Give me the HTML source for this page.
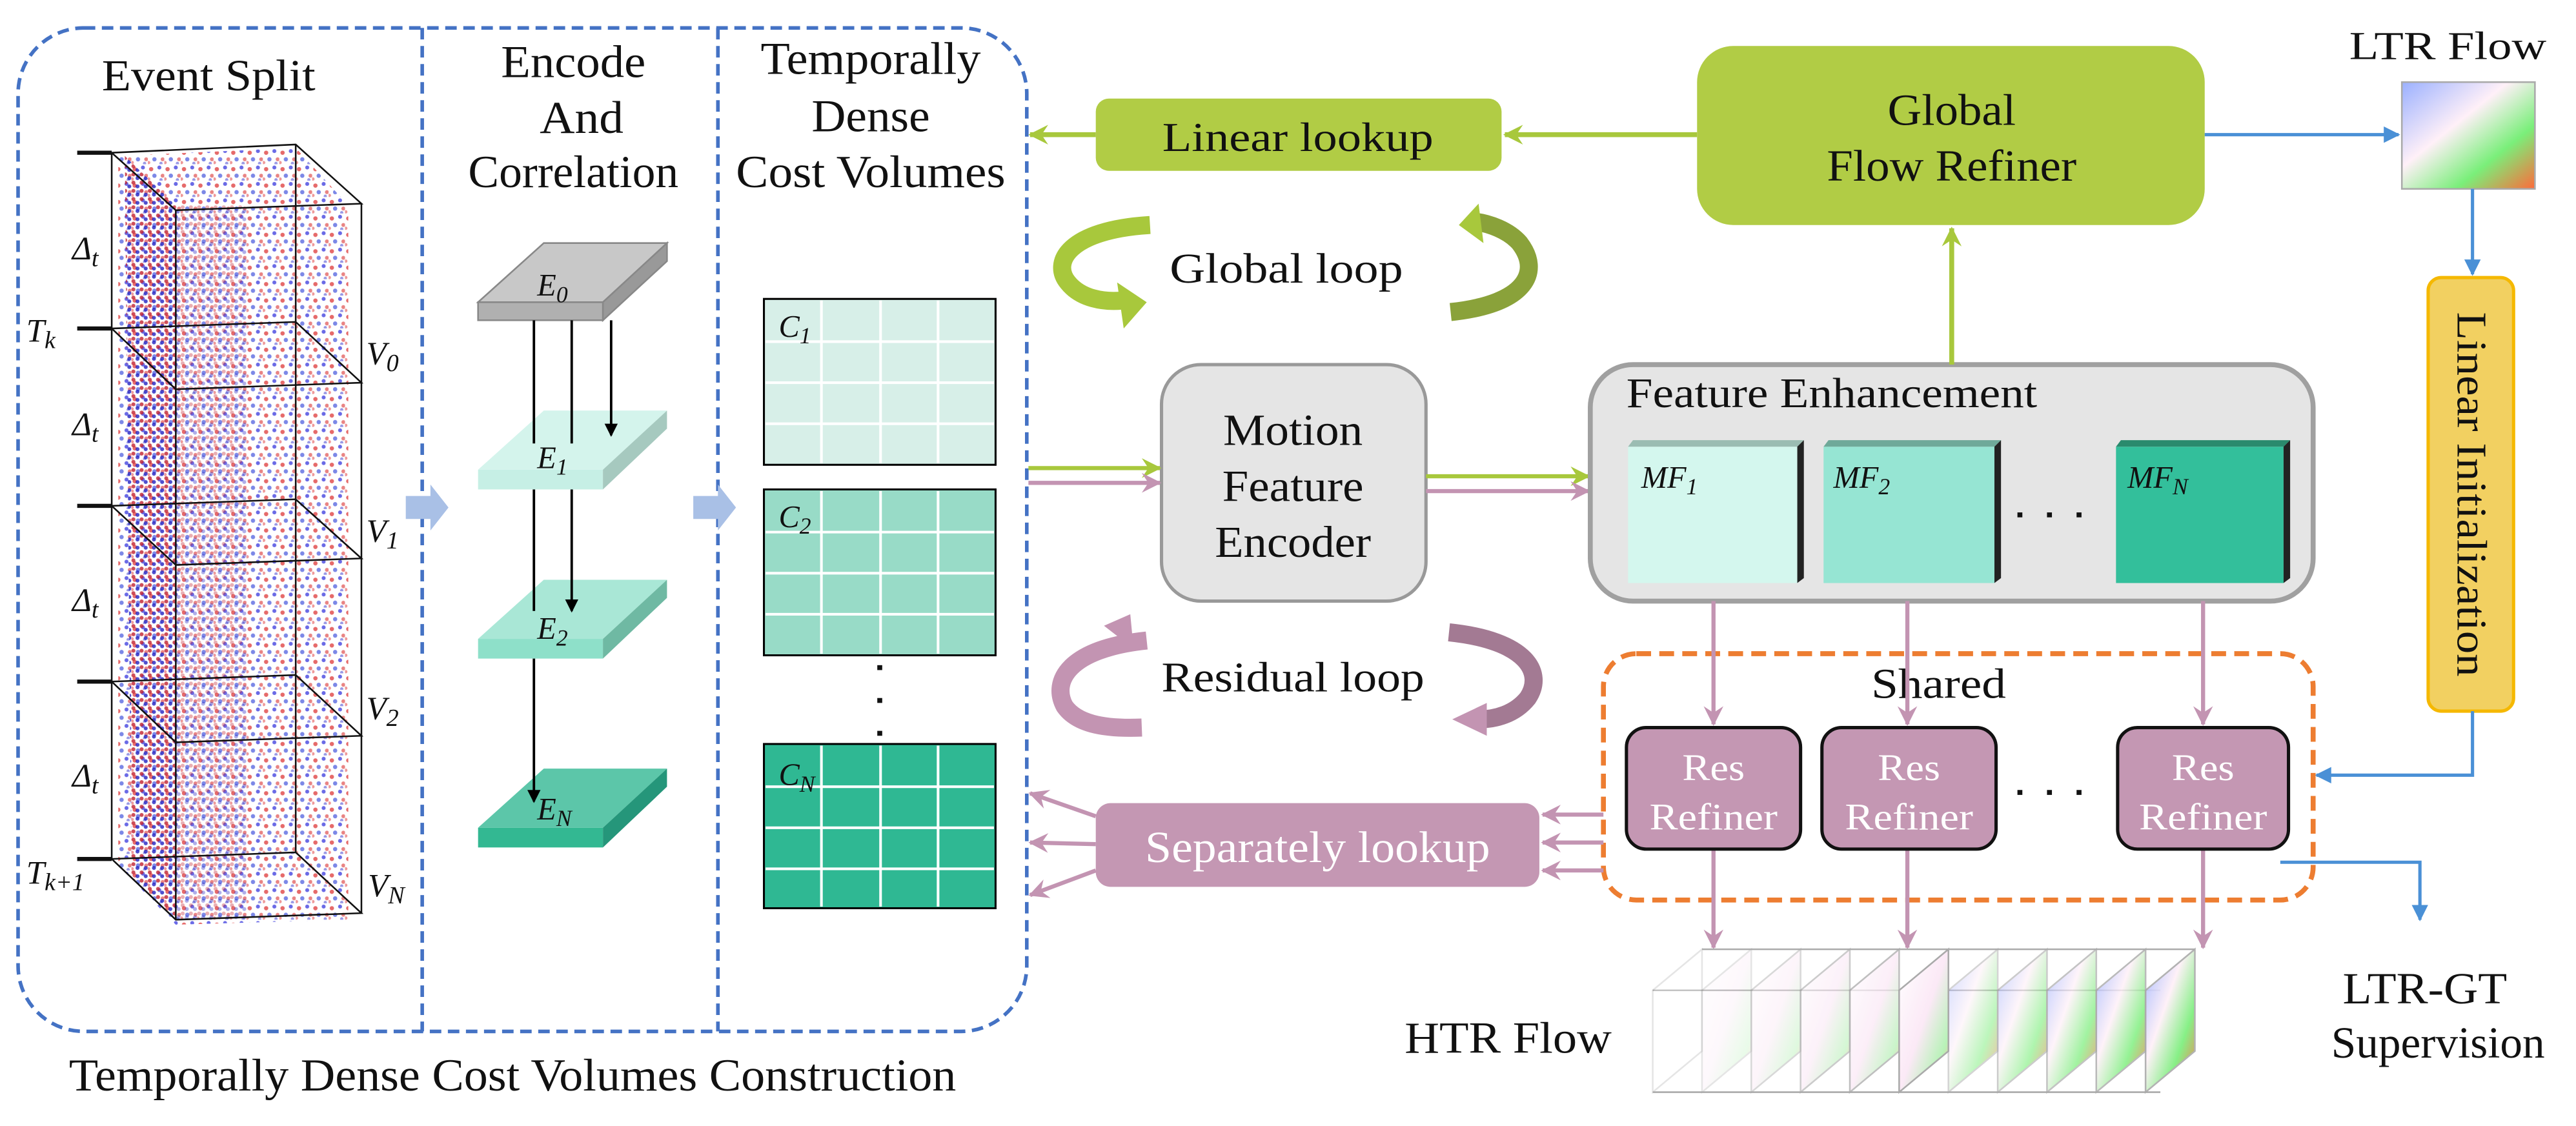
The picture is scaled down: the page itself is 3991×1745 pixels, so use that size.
<!DOCTYPE html>
<html><head><meta charset="utf-8"><style>
html,body{margin:0;padding:0;background:#fff;}
svg{display:block;}
text{font-family:"Liberation Serif",serif;fill:#111;}
</style></head><body>
<svg width="3991" height="1745" viewBox="0 0 1568 685.6" preserveAspectRatio="none" xmlns="http://www.w3.org/2000/svg">
<defs>
<pattern id="dots" width="10" height="10" patternUnits="userSpaceOnUse">
<circle cx="2" cy="3" r="1.3" fill="#e04545" opacity=".8"/><circle cx="7" cy="2" r="1.2" fill="#4545e0" opacity=".8"/>
<circle cx="4" cy="7" r="1.3" fill="#4455dd" opacity=".7"/><circle cx="9" cy="7" r="1.2" fill="#e05050" opacity=".7"/>
<circle cx="8" cy="9.5" r="1" fill="#3333cc" opacity=".5"/><circle cx="0.5" cy="9" r="1" fill="#dd3333" opacity=".5"/>
</pattern>
<pattern id="dots2" width="5" height="5" patternUnits="userSpaceOnUse">
<circle cx="1.2" cy="1.2" r="1.2" fill="#c02030" opacity=".8"/><circle cx="3.7" cy="3.5" r="1.2" fill="#2020c0" opacity=".8"/>
</pattern>
<linearGradient id="flowg" x1="0" y1="0" x2="1" y2="1">
<stop offset="0" stop-color="#9ab0ff"/><stop offset=".4" stop-color="#fff0f8"/><stop offset=".7" stop-color="#7aef7a"/><stop offset="1" stop-color="#ff6a3a"/>
</linearGradient>
<linearGradient id="flowl" x1="0" y1="0" x2="1" y2="1">
<stop offset="0" stop-color="#ffffff"/><stop offset=".5" stop-color="#fbe9f6"/><stop offset=".8" stop-color="#b8f2b8"/><stop offset="1" stop-color="#ffb090"/>
</linearGradient>
<marker id="ab" markerWidth="8" markerHeight="8" refX="7" refY="4" orient="auto" markerUnits="userSpaceOnUse"><path d="M0,0 L8,4 L0,8z" fill="#000"/></marker>
<marker id="ag" markerWidth="12" markerHeight="12" refX="11" refY="6" orient="auto" markerUnits="userSpaceOnUse"><path d="M0,0 L12,6 L0,12 L4,6z" fill="#a8c83c"/></marker>
<marker id="ap" markerWidth="12" markerHeight="12" refX="11" refY="6" orient="auto" markerUnits="userSpaceOnUse"><path d="M0,0 L12,6 L0,12 L4,6z" fill="#c394b2"/></marker>
<marker id="abl" markerWidth="10" markerHeight="10" refX="9" refY="5" orient="auto" markerUnits="userSpaceOnUse"><path d="M0,0 L10,5 L0,10z" fill="#4a90d6"/></marker>
</defs>

<rect x="11" y="17" width="614" height="611" rx="40" fill="none" stroke="#4472c4" stroke-width="2.2" stroke-dasharray="7,4"/>
<line x1="257" y1="17" x2="257" y2="628" stroke="#4472c4" stroke-width="2.2" stroke-dasharray="7,4"/>
<line x1="437" y1="17" x2="437" y2="628" stroke="#4472c4" stroke-width="2.2" stroke-dasharray="7,4"/>

<text x="127" y="55" font-size="27" text-anchor="middle" textLength="130" lengthAdjust="spacingAndGlyphs">Event Split</text>
<text x="349" y="47" font-size="28" text-anchor="middle" textLength="88" lengthAdjust="spacingAndGlyphs">Encode</text>
<text x="354" y="81" font-size="28" text-anchor="middle" textLength="51" lengthAdjust="spacingAndGlyphs">And</text>
<text x="349" y="114" font-size="28" text-anchor="middle" textLength="128" lengthAdjust="spacingAndGlyphs">Correlation</text>
<text x="530" y="45" font-size="28" text-anchor="middle" textLength="134" lengthAdjust="spacingAndGlyphs">Temporally</text>
<text x="530" y="80" font-size="28" text-anchor="middle" textLength="72" lengthAdjust="spacingAndGlyphs">Dense</text>
<text x="530" y="114" font-size="28" text-anchor="middle" textLength="164" lengthAdjust="spacingAndGlyphs">Cost Volumes</text>
<text x="312" y="664" font-size="28" text-anchor="middle" textLength="540" lengthAdjust="spacingAndGlyphs">Temporally Dense Cost Volumes Construction</text>

<!-- event cube -->
<path d="M72,95 L180,90 L212,125 L212,560 L107,563 L72,527z" fill="url(#dots)"/>
<path d="M76,95 L107,125 L107,560 L80,535z" fill="url(#dots2)"/>
<path d="M107,125 L150,125 L150,560 L107,560z" fill="url(#dots2)" opacity=".45"/>
<g fill="none" stroke="#111" stroke-width="1">
<path d="M68,93 L180,88 L220,124 L107,128z"/>
<line x1="68" y1="93" x2="68" y2="523"/><line x1="180" y1="88" x2="180" y2="519"/>
<line x1="107" y1="128" x2="107" y2="560"/><line x1="220" y1="124" x2="220" y2="556"/>
<path d="M68,200 L180,196 L220,233 L107,237z"/>
<path d="M68,308 L180,304 L220,340 L107,344z"/>
<path d="M68,415 L180,411 L220,448 L107,452z"/>
<path d="M68,523 L180,519 L220,556 L107,560z"/>
</g>
<g stroke="#111" stroke-width="2.5">
<line x1="47" y1="93" x2="68" y2="93"/><line x1="47" y1="200" x2="68" y2="200"/><line x1="47" y1="308" x2="68" y2="308"/><line x1="47" y1="415" x2="68" y2="415"/><line x1="47" y1="523" x2="68" y2="523"/>
</g>
<g font-size="20" font-style="italic">
<text x="44" y="158">Δ<tspan font-size="15" dy="4">t</tspan></text>
<text x="44" y="265">Δ<tspan font-size="15" dy="4">t</tspan></text>
<text x="44" y="372">Δ<tspan font-size="15" dy="4">t</tspan></text>
<text x="44" y="479">Δ<tspan font-size="15" dy="4">t</tspan></text>
<text x="16" y="208">T<tspan font-size="15" dy="4">k</tspan></text>
<text x="16" y="538">T<tspan font-size="15" dy="4">k+1</tspan></text>
<text x="223" y="222">V<tspan font-size="15" dy="4">0</tspan></text>
<text x="223" y="330">V<tspan font-size="15" dy="4">1</tspan></text>
<text x="223" y="438">V<tspan font-size="15" dy="4">2</tspan></text>
<text x="224" y="546">V<tspan font-size="15" dy="4">N</tspan></text>
</g>

<path d="M247,302 L262,302 L262,295 L273,309 L262,323 L262,316 L247,316z" fill="#a9c0e6"/>
<path d="M422,302 L437,302 L437,295 L448,309 L437,323 L437,316 L422,316z" fill="#a9c0e6"/>

<path d="M291,184 L331,148 L406,148 L367,184z" fill="#c8c8c8" stroke="#888" stroke-width="1"/>
<rect x="291" y="184" width="76" height="11" fill="#b0b0b0" stroke="#888" stroke-width="1"/>
<path d="M367,184 L406,148 L406,159 L367,195z" fill="#999" stroke="#888" stroke-width="1"/>
<path d="M291,286 L331,250 L406,250 L367,286z" fill="#d4f4ec"/><rect x="291" y="286" width="76" height="12" fill="#c6efe5"/><path d="M367,286 L406,250 L406,261 L367,298z" fill="#a6c9bf"/>
<path d="M291,389 L331,353 L406,353 L367,389z" fill="#a9e7d6"/><rect x="291" y="389" width="76" height="12" fill="#8ee0c9"/><path d="M367,389 L406,353 L406,364 L367,401z" fill="#6fb9a3"/>
<path d="M291,504 L331,468 L406,468 L367,504z" fill="#5cc6a9"/><rect x="291" y="504" width="76" height="12" fill="#33b892"/><path d="M367,504 L406,468 L406,479 L367,516z" fill="#25967a"/>
<g stroke="#000" stroke-width="1.5" fill="none">
<line x1="372" y1="195" x2="372" y2="265" marker-end="url(#ab)"/>
<line x1="325" y1="195" x2="325" y2="270"/><line x1="348" y1="195" x2="348" y2="270"/>
<line x1="325" y1="298" x2="325" y2="372"/><line x1="348" y1="298" x2="348" y2="372" marker-end="url(#ab)"/>
<line x1="325" y1="401" x2="325" y2="488" marker-end="url(#ab)"/>
</g>
<g font-size="19" font-style="italic">
<text x="327" y="180">E<tspan font-size="14" dy="4">0</tspan></text>
<text x="327" y="285">E<tspan font-size="14" dy="4">1</tspan></text>
<text x="327" y="389">E<tspan font-size="14" dy="4">2</tspan></text>
<text x="327" y="499">E<tspan font-size="14" dy="4">N</tspan></text>
</g>

<g stroke="#fff" stroke-width="1.6">
<rect x="465" y="182" width="141" height="101" fill="#d7efe8" stroke="#000" stroke-width="1.2"/>
<line x1="500" y1="183" x2="500" y2="282"/><line x1="536" y1="183" x2="536" y2="282"/><line x1="571" y1="183" x2="571" y2="282"/>
<line x1="466" y1="208" x2="605" y2="208"/><line x1="466" y1="233" x2="605" y2="233"/><line x1="466" y1="258" x2="605" y2="258"/>
<rect x="465" y="298" width="141" height="101" fill="#98dbc7" stroke="#000" stroke-width="1.2"/>
<line x1="500" y1="299" x2="500" y2="398"/><line x1="536" y1="299" x2="536" y2="398"/><line x1="571" y1="299" x2="571" y2="398"/>
<line x1="466" y1="324" x2="605" y2="324"/><line x1="466" y1="349" x2="605" y2="349"/><line x1="466" y1="374" x2="605" y2="374"/>
<rect x="465" y="453" width="141" height="100" fill="#2fb893" stroke="#000" stroke-width="1.2"/>
<line x1="500" y1="454" x2="500" y2="552"/><line x1="536" y1="454" x2="536" y2="552"/><line x1="571" y1="454" x2="571" y2="552"/>
<line x1="466" y1="479" x2="605" y2="479"/><line x1="466" y1="504" x2="605" y2="504"/><line x1="466" y1="529" x2="605" y2="529"/>
</g>
<g fill="#111"><rect x="534" y="405" width="3" height="3"/><rect x="534" y="425" width="3" height="3"/><rect x="534" y="445" width="3" height="3"/></g>
<g font-size="19" font-style="italic">
<text x="474" y="205">C<tspan font-size="14" dy="4">1</tspan></text>
<text x="474" y="321">C<tspan font-size="14" dy="4">2</tspan></text>
<text x="474" y="478">C<tspan font-size="14" dy="4">N</tspan></text>
</g>

<rect x="667" y="60" width="247" height="44" rx="8" fill="#b1cc45"/>
<text x="790" y="92" font-size="25" text-anchor="middle" textLength="165" lengthAdjust="spacingAndGlyphs">Linear lookup</text>
<line x1="1033" y1="82" x2="916" y2="82" stroke="#a8c83c" stroke-width="3" marker-end="url(#ag)"/>
<line x1="667" y1="82" x2="627" y2="82" stroke="#a8c83c" stroke-width="3" marker-end="url(#ag)"/>
<rect x="1033" y="28" width="309" height="109" rx="22" fill="#b1cc45"/>
<text x="1188" y="76" font-size="27" text-anchor="middle" textLength="78" lengthAdjust="spacingAndGlyphs">Global</text>
<text x="1188" y="110" font-size="27" text-anchor="middle" textLength="152" lengthAdjust="spacingAndGlyphs">Flow Refiner</text>
<line x1="1342" y1="82" x2="1460" y2="82" stroke="#4a90d6" stroke-width="2" marker-end="url(#abl)"/>
<text x="1490" y="36" font-size="24" text-anchor="middle" textLength="120" lengthAdjust="spacingAndGlyphs">LTR Flow</text>
<rect x="1462" y="50" width="81" height="65" fill="url(#flowg)" stroke="#aaa" stroke-width="1"/>
<line x1="1505" y1="115" x2="1505" y2="167" stroke="#4a90d6" stroke-width="2" marker-end="url(#abl)"/>
<rect x="1478" y="169" width="52" height="264" rx="8" fill="#f2d061" stroke="#f5b800" stroke-width="2"/>
<text transform="translate(1496,301) rotate(90)" font-size="26" text-anchor="middle" textLength="222" lengthAdjust="spacingAndGlyphs">Linear Initialization</text>
<path d="M1505,433 L1505,472 L1410,472" fill="none" stroke="#4a90d6" stroke-width="2" marker-end="url(#abl)"/>

<path d="M700,137 C650,140 640,160 650,172 C658,182 672,184 683,183" fill="none" stroke="#a8c83c" stroke-width="11"/>
<path d="M680,172 L698,184 L684,200z" fill="#a8c83c"/>
<path d="M883,190 C930,185 938,165 925,148 C918,140 906,136 898,135" fill="none" stroke="#8aa23a" stroke-width="11"/>
<path d="M900,124 L888,137 L903,148z" fill="#a8c83c"/>
<text x="783" y="172" font-size="26" text-anchor="middle" textLength="142" lengthAdjust="spacingAndGlyphs">Global loop</text>

<rect x="707" y="222" width="161" height="144" rx="24" fill="#e5e5e5" stroke="#999" stroke-width="2"/>
<text x="787" y="271" font-size="27" text-anchor="middle" textLength="85" lengthAdjust="spacingAndGlyphs">Motion</text>
<text x="787" y="305" font-size="27" text-anchor="middle" textLength="86" lengthAdjust="spacingAndGlyphs">Feature</text>
<text x="787" y="339" font-size="27" text-anchor="middle" textLength="95" lengthAdjust="spacingAndGlyphs">Encoder</text>
<line x1="626" y1="285" x2="706" y2="285" stroke="#a8c83c" stroke-width="2.5" marker-end="url(#ag)"/>
<line x1="626" y1="294" x2="706" y2="294" stroke="#c394b2" stroke-width="2.5" marker-end="url(#ap)"/>
<line x1="868" y1="290" x2="967" y2="290" stroke="#a8c83c" stroke-width="2.5" marker-end="url(#ag)"/>
<line x1="868" y1="299" x2="967" y2="299" stroke="#c394b2" stroke-width="2.5" marker-end="url(#ap)"/>

<rect x="968" y="222" width="440" height="144" rx="26" fill="#e5e5e5" stroke="#a0a0a0" stroke-width="3"/>
<line x1="1188" y1="222" x2="1188" y2="139" stroke="#a8c83c" stroke-width="3" marker-end="url(#ag)"/>
<text x="990" y="248" font-size="26" textLength="250" lengthAdjust="spacingAndGlyphs">Feature Enhancement</text>
<rect x="991" y="272" width="103" height="83" fill="#d4f7ee"/><path d="M991,272 L994,268 L1098,268 L1094,272z" fill="#9bbcb2"/><path d="M1094,272 L1098,268 L1098,352 L1094,355z" fill="#222"/>
<rect x="1110" y="272" width="104" height="83" fill="#96e5d3"/><path d="M1110,272 L1113,268 L1218,268 L1214,272z" fill="#6fa999"/><path d="M1214,272 L1218,268 L1218,352 L1214,355z" fill="#222"/>
<rect x="1288" y="272" width="102" height="83" fill="#33bf9b"/><path d="M1288,272 L1291,268 L1394,268 L1390,272z" fill="#2a8a6d"/><path d="M1390,272 L1394,268 L1394,352 L1390,355z" fill="#222"/>
<g font-size="19" font-style="italic">
<text x="999" y="297">MF<tspan font-size="14" dy="4">1</tspan></text>
<text x="1116" y="297">MF<tspan font-size="14" dy="4">2</tspan></text>
<text x="1295" y="297">MF<tspan font-size="14" dy="4">N</tspan></text>
</g>
<g fill="#111"><rect x="1228" y="312" width="3" height="3"/><rect x="1246" y="312" width="3" height="3"/><rect x="1264" y="312" width="3" height="3"/>
<rect x="1228" y="481" width="3" height="3"/><rect x="1246" y="481" width="3" height="3"/><rect x="1264" y="481" width="3" height="3"/></g>

<rect x="976" y="398" width="432" height="150" rx="20" fill="none" stroke="#ed7d31" stroke-width="3" stroke-dasharray="9,5"/>
<text x="1180" y="425" font-size="26" text-anchor="middle" textLength="82" lengthAdjust="spacingAndGlyphs">Shared</text>
<g stroke="#c394b2" stroke-width="2.5">
<line x1="1043" y1="366" x2="1043" y2="441" marker-end="url(#ap)"/>
<line x1="1161" y1="366" x2="1161" y2="441" marker-end="url(#ap)"/>
<line x1="1341" y1="366" x2="1341" y2="441" marker-end="url(#ap)"/>
<line x1="1043" y1="517" x2="1043" y2="577" marker-end="url(#ap)"/>
<line x1="1161" y1="517" x2="1161" y2="577" marker-end="url(#ap)"/>
<line x1="1341" y1="517" x2="1341" y2="577" marker-end="url(#ap)"/>
</g>
<g fill="#c497b3" stroke="#111" stroke-width="2">
<rect x="990" y="443" width="106" height="74" rx="12"/>
<rect x="1109" y="443" width="106" height="74" rx="12"/>
<rect x="1289" y="443" width="104" height="74" rx="12"/>
</g>
<g font-size="23" text-anchor="middle">
<text x="1043" y="475" style="fill:#fff" textLength="38" lengthAdjust="spacingAndGlyphs">Res</text><text x="1043" y="505" style="fill:#fff" textLength="78" lengthAdjust="spacingAndGlyphs">Refiner</text>
<text x="1162" y="475" style="fill:#fff" textLength="38" lengthAdjust="spacingAndGlyphs">Res</text><text x="1162" y="505" style="fill:#fff" textLength="78" lengthAdjust="spacingAndGlyphs">Refiner</text>
<text x="1341" y="475" style="fill:#fff" textLength="38" lengthAdjust="spacingAndGlyphs">Res</text><text x="1341" y="505" style="fill:#fff" textLength="78" lengthAdjust="spacingAndGlyphs">Refiner</text>
</g>

<rect x="667" y="489" width="270" height="51" rx="9" fill="#c497b3"/>
<text x="802" y="525" font-size="27" text-anchor="middle" style="fill:#fff" textLength="210" lengthAdjust="spacingAndGlyphs">Separately lookup</text>
<g stroke="#c394b2" stroke-width="2.5">
<line x1="976" y1="496" x2="939" y2="496" marker-end="url(#ap)"/>
<line x1="976" y1="513" x2="939" y2="513" marker-end="url(#ap)"/>
<line x1="976" y1="530" x2="939" y2="530" marker-end="url(#ap)"/>
<line x1="667" y1="497" x2="627" y2="483" marker-end="url(#ap)"/>
<line x1="667" y1="514" x2="627" y2="513" marker-end="url(#ap)"/>
<line x1="667" y1="530" x2="627" y2="545" marker-end="url(#ap)"/>
</g>

<path d="M698,390 C650,395 640,415 648,430 C655,440 670,444 695,443" fill="none" stroke="#c394b2" stroke-width="11"/>
<path d="M672,381 L688,374 L690,395z" fill="#c394b2"/>
<path d="M882,385 C930,390 940,410 930,425 C922,435 910,438 900,438" fill="none" stroke="#a37a93" stroke-width="11"/>
<path d="M905,428 L884,438 L905,448z" fill="#c394b2"/>
<text x="787" y="421" font-size="26" text-anchor="middle" textLength="160" lengthAdjust="spacingAndGlyphs">Residual loop</text>

<path d="M1388,525 L1473,525 L1473,560" fill="none" stroke="#4a90d6" stroke-width="2" marker-end="url(#abl)"/>
<text x="1476" y="611" font-size="27" text-anchor="middle" textLength="100" lengthAdjust="spacingAndGlyphs">LTR-GT</text>
<text x="1484" y="644" font-size="27" text-anchor="middle" textLength="130" lengthAdjust="spacingAndGlyphs">Supervision</text>

<text x="918" y="641" font-size="27" text-anchor="middle" textLength="126" lengthAdjust="spacingAndGlyphs">HTR Flow</text>
<g stroke="#aaa" stroke-width="1">
<line x1="1006" y1="603" x2="1315" y2="603"/><line x1="1006" y1="665" x2="1315" y2="665"/>
<path d="M1006,603 L1036,578 L1036,640 L1006,665z" fill="#fff" opacity=".3"/>
<path d="M1036,603 L1066,578 L1066,640 L1036,665z" fill="url(#flowl)" opacity=".3"/>
<path d="M1066,603 L1096,578 L1096,640 L1066,665z" fill="url(#flowl)" opacity=".45"/>
<path d="M1096,603 L1126,578 L1126,640 L1096,665z" fill="url(#flowl)" opacity=".6"/>
<path d="M1126,603 L1156,578 L1156,640 L1126,665z" fill="url(#flowl)" opacity=".75"/>
<path d="M1156,603 L1186,578 L1186,640 L1156,665z" fill="url(#flowl)"/>
<path d="M1186,603 L1216,578 L1216,640 L1186,665z" fill="url(#flowg)" opacity=".5"/>
<path d="M1216,603 L1246,578 L1246,640 L1216,665z" fill="url(#flowg)" opacity=".6"/>
<path d="M1246,603 L1276,578 L1276,640 L1246,665z" fill="url(#flowg)" opacity=".7"/>
<path d="M1276,603 L1306,578 L1306,640 L1276,665z" fill="url(#flowg)" opacity=".8"/>
<path d="M1306,603 L1336,578 L1336,640 L1306,665z" fill="url(#flowg)" opacity=".9"/>
<line x1="1036" y1="578" x2="1336" y2="578"/>
</g>
</svg>
</body></html>
